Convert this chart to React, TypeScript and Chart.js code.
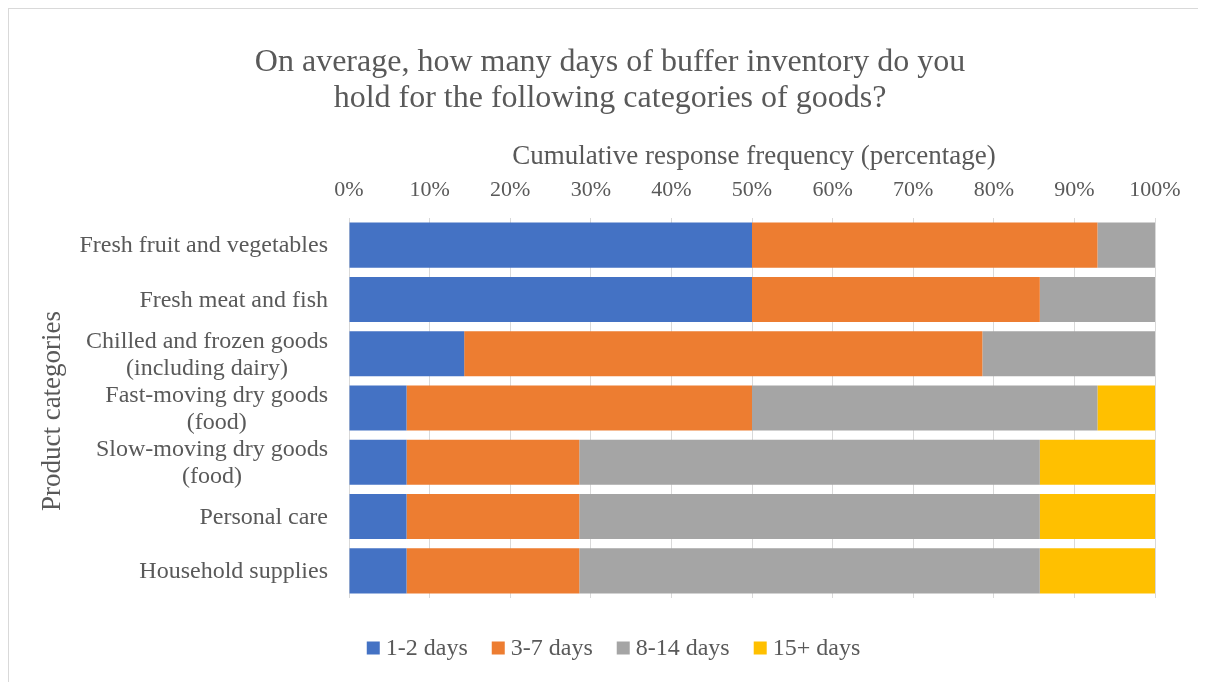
import React, { useEffect, useRef } from "react";
import { Chart, registerables } from "chart.js";

Chart.register(...registerables);

const titleLines = [
  "On average, how many days of buffer inventory do you",
  "hold for the following categories of goods?",
];
const xAxisTitle = "Cumulative response frequency (percentage)";
const yAxisTitle = "Product categories";

const categories: string[][] = [
  ["Fresh fruit and vegetables"],
  ["Fresh meat and fish"],
  ["Chilled and frozen goods", "(including dairy)"],
  ["Fast-moving dry goods", "(food)"],
  ["Slow-moving dry goods", "(food)"],
  ["Personal care"],
  ["Household supplies"],
];

const seriesNames = ["1-2 days", "3-7 days", "8-14 days", "15+ days"];
const seriesColors = ["#4472C4", "#ED7D31", "#A5A5A5", "#FFC000"];

const days1to2 = [50, 50, 14.29, 7.14, 7.14, 7.14, 7.14];
const days3to7 = [42.86, 35.71, 64.29, 42.86, 21.43, 21.43, 21.43];
const days8to14 = [7.14, 14.29, 21.43, 42.86, 57.14, 57.14, 57.14];
const days15plus = [0, 0, 0, 7.14, 14.29, 14.29, 14.29];

const xTickStep = 10;
const xMax = 100;

const FONT = "'Liberation Serif', 'Times New Roman', serif";
const TEXT = "#595959";

export default function App() {
  const ref = useRef<HTMLCanvasElement | null>(null);

  useEffect(() => {
    if (!ref.current) return;
    const overlay = {
      id: "overlay",
      afterDraw(chart: any) {
        const ctx = chart.ctx as CanvasRenderingContext2D;
        const yScale = chart.scales.y;
        ctx.save();
        ctx.fillStyle = TEXT;
        ctx.textBaseline = "middle";
        // Title
        ctx.font = `32px ${FONT}`;
        ctx.textAlign = "center";
        titleLines.forEach((t, i) => ctx.fillText(t, 601, 54 + i * 36));
        // x axis title
        ctx.font = `27px ${FONT}`;
        ctx.fillText(xAxisTitle, 745, 148);
        // y axis title
        ctx.save();
        ctx.translate(44, 402);
        ctx.rotate(-Math.PI / 2);
        ctx.fillText(yAxisTitle, 0, 0);
        ctx.restore();
        // y category labels
        ctx.font = `24px ${FONT}`;
        const rightEdge = 319;
        categories.forEach((lines, i) => {
          const cy = yScale.getPixelForValue(i);
          const w = Math.max(...lines.map((l) => ctx.measureText(l).width));
          const cx = rightEdge - w / 2;
          const lh = 27;
          lines.forEach((l, j) => {
            ctx.fillText(l, cx, cy + 1 + (j - (lines.length - 1) / 2) * lh);
          });
        });
        // Legend
        ctx.font = `24px ${FONT}`;
        const box = 13;
        const gapText = 6;
        const gapItem = 24;
        const widths = seriesNames.map((n) => ctx.measureText(n).width);
        const total =
          widths.reduce((a, b) => a + b, 0) +
          seriesNames.length * (box + gapText) +
          (seriesNames.length - 1) * gapItem;
        let x = 604.5 - total / 2;
        const ly = 639;
        ctx.textAlign = "left";
        seriesNames.forEach((n, i) => {
          ctx.fillStyle = seriesColors[i];
          ctx.fillRect(x, ly - box / 2, box, box);
          x += box + gapText;
          ctx.fillStyle = TEXT;
          ctx.fillText(n, x, ly + 1);
          x += widths[i] + gapItem;
        });
        ctx.restore();
      },
    };

    const seriesData = [days1to2, days3to7, days8to14, days15plus];
    const chart = new Chart(ref.current, {
      type: "bar",
      data: {
        labels: categories.map((c) => c.join(" ")),
        datasets: seriesNames.map((name, i) => ({
          label: name,
          data: seriesData[i],
          backgroundColor: seriesColors[i],
          borderWidth: 0,
          barPercentage: 0.83,
          categoryPercentage: 1,
        })),
      },
      options: {
        indexAxis: "y",
        responsive: false,
        animation: false,
        layout: { padding: { left: 340, right: 43, top: 0, bottom: 89 } },
        plugins: {
          legend: { display: false },
          title: { display: false },
          tooltip: { enabled: false },
        },
        scales: {
          x: {
            position: "top",
            stacked: true,
            min: 0,
            max: xMax,
            ticks: {
              stepSize: xTickStep,
              callback: (v: any) => `${v}%`,
              font: { family: FONT, size: 22 },
              color: TEXT,
              padding: 15,
            },
            grid: { color: "#D9D9D9", drawTicks: false, lineWidth: 1 },
            border: { display: false },
            afterFit: (s: any) => {
              s.height = 209;
            },
          },
          y: {
            stacked: true,
            ticks: { display: false },
            grid: { display: false },
            border: { display: false },
            afterFit: (s: any) => {
              s.width = 0;
            },
          },
        },
      },
      plugins: [overlay],
    });
    return () => chart.destroy();
  }, []);

  return (
    <div
      style={{
        border: "1px solid #D9D9D9",
        width: 1189,
        height: 678,
        background: "#fff",
      }}
    >
      <canvas ref={ref} width={1189} height={678} style={{ display: "block" }} />
    </div>
  );
}
